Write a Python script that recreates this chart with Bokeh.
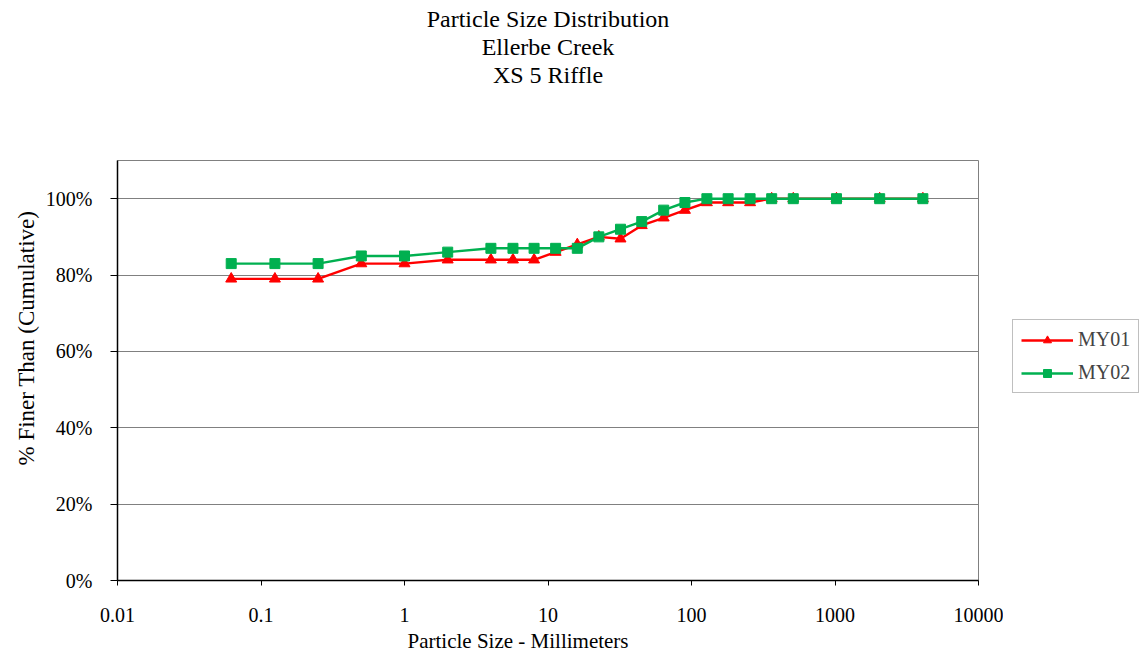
from bokeh.plotting import figure
from bokeh.layouts import row
from bokeh.models import (FixedTicker, CustomJSTickFormatter, Title, Legend, LegendItem, Range1d)
from bokeh.embed import file_html
from bokeh.resources import INLINE

sizes_mm = [0.062, 0.125, 0.25, 0.5, 1, 2, 4, 5.7, 8, 11.3, 16, 22.6, 32, 45, 64, 90,
            128, 180, 256, 362, 512, 1024, 2048, 4096]
my01 = [79, 79, 79, 83, 83, 84, 84, 84, 84, 86, 88, 90, 89.5, 93, 95, 97,
        99, 99, 99, 100, 100, 100, 100, 100]
my02 = [83, 83, 83, 85, 85, 86, 87, 87, 87, 87, 87, 90, 92, 94, 97, 99,
        100, 100, 100, 100, 100, 100, 100, 100]
x_ticks = [0.01, 0.1, 1, 10, 100, 1000, 10000]
y_ticks = [0, 20, 40, 60, 80, 100]
title_lines = ["Particle Size Distribution", "Ellerbe Creek", "XS 5 Riffle"]
x_label = "Particle Size - Millimeters"
y_label = "% Finer Than (Cumulative)"
series_names = ["MY01", "MY02"]

FONT = "Liberation Serif"
RED = "#FF0000"
GREEN = "#00B050"
NAN = float("nan")

p = figure(width=1003, height=655, x_axis_type="log", output_backend="svg",
           toolbar_location=None, x_range=Range1d(0.01, 10000), y_range=Range1d(0, 110),
           min_border_left=117, min_border_right=25, min_border_bottom=75, min_border_top=160)
p.title = None

# spacer title closest to the frame, then the three title lines stacked upward
p.add_layout(Title(text=" ", text_font=FONT, text_font_size="24px", standoff=45), "above")
for line in reversed(title_lines):
    p.add_layout(Title(text=line, align="center", text_font=FONT,
                       text_font_size="24px", text_font_style="normal", text_color="black",
                       standoff=0), "above")

# axis titles (as side titles so they can be shifted along the axis like the reference)
p.add_layout(Title(text=x_label, align="left", offset=290, text_font=FONT,
                   text_font_size="21px", text_font_style="normal", text_color="black",
                   standoff=5), "below")
p.add_layout(Title(text=y_label, align="left", offset=115, text_font=FONT,
                   text_font_size="23px", text_font_style="normal", text_color="black",
                   standoff=8), "left")

p.outline_line_color = "#808080"
p.outline_line_width = 1
p.background_fill_color = "white"
p.border_fill_color = "white"

p.xgrid.visible = False
p.ygrid.grid_line_color = "#808080"
p.ygrid.grid_line_width = 1

p.xaxis.ticker = FixedTicker(ticks=x_ticks, minor_ticks=[])
p.xaxis.formatter = CustomJSTickFormatter(code="return String(parseFloat(tick.toPrecision(6)));")
p.yaxis.ticker = FixedTicker(ticks=y_ticks, minor_ticks=[])
p.yaxis.formatter = CustomJSTickFormatter(code="return tick.toFixed(0) + '%';")

for ax in (p.xaxis[0], p.yaxis[0]):
    ax.axis_line_color = "black"
    ax.axis_line_width = 1.5
    ax.major_tick_line_color = "black"
    ax.major_tick_in = 0
    ax.minor_tick_line_color = None
    ax.major_label_text_font = FONT
    ax.major_label_text_font_size = "20px"
    ax.major_label_text_color = "black"

p.xaxis.major_tick_out = 5
p.xaxis.major_label_standoff = 22
p.yaxis.major_tick_out = 7
p.yaxis.major_label_standoff = 18

p.line(sizes_mm, my01, line_color=RED, line_width=2.4)
p.scatter(sizes_mm, my01, marker="triangle", size=11, fill_color=RED, line_color=RED)
p.line(sizes_mm, my02, line_color=GREEN, line_width=2.4)
p.scatter(sizes_mm, my02, marker="square", size=10, fill_color=GREEN, line_color=GREEN)

# legend panel to the right
q = figure(width=140, height=655, output_backend="svg", toolbar_location=None,
           x_range=Range1d(0, 1), y_range=Range1d(0, 1),
           x_axis_location=None, y_axis_location=None,
           min_border=0, min_border_left=0, min_border_right=0,
           min_border_top=0, min_border_bottom=0)
q.title = None
q.outline_line_color = None
q.grid.visible = False
q.background_fill_color = "white"
q.border_fill_color = "white"

ql1 = q.line([NAN], [NAN], line_color=RED, line_width=2.4)
qm1 = q.scatter([NAN], [NAN], marker="triangle", size=10, fill_color=RED, line_color=RED)
ql2 = q.line([NAN], [NAN], line_color=GREEN, line_width=2.4)
qm2 = q.scatter([NAN], [NAN], marker="square", size=9, fill_color=GREEN, line_color=GREEN)

legend = Legend(items=[LegendItem(label=series_names[0], renderers=[ql1, qm1]),
                       LegendItem(label=series_names[1], renderers=[ql2, qm2])],
                location=(9, 187), orientation="vertical",
                border_line_color="#808080", border_line_width=1,
                label_text_font=FONT, label_text_font_size="20px",
                glyph_width=52, glyph_height=20, label_standoff=5,
                padding=8, spacing=10, margin=0, background_fill_alpha=1)
q.add_layout(legend, "center")

layout = row(p, q, spacing=0)
open("out.html", "w").write(file_html(layout, INLINE))
